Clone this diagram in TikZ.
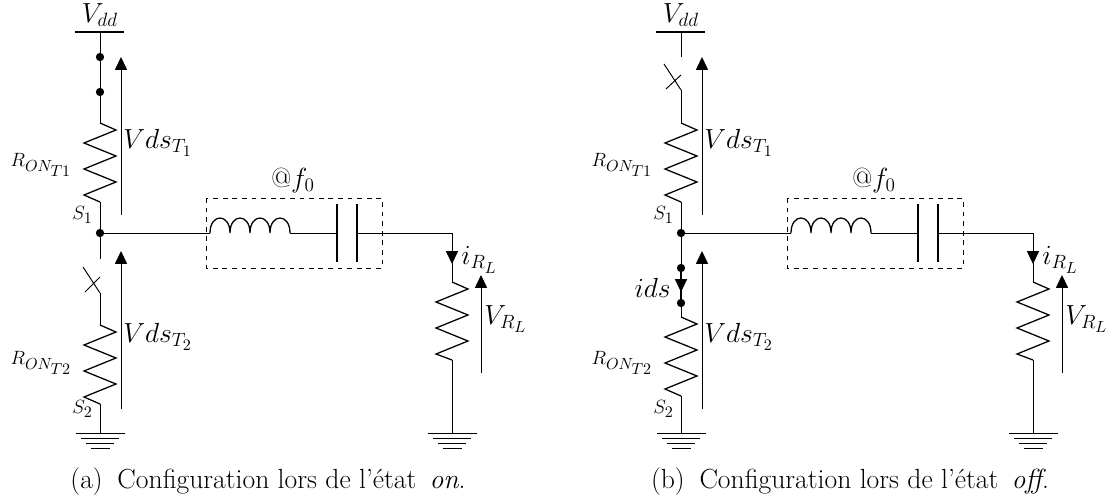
\documentclass[tikz,border=0pt]{standalone}
\usetikzlibrary{arrows.meta,calc}
\DeclareMathSizes{16}{16}{12}{10}
\tikzset{
    wire/.style={line width=0.45pt},
    res/.style={line width=0.8pt},
    volt/.style={line width=0.55pt,-{Triangle[length=8pt,width=7.5pt]}},
    dot/.style={circle,fill=black,inner sep=0pt,minimum size=5.2pt},
    lbl/.style={inner sep=0pt,font=\fontsize{16}{19}\selectfont},
    capt/.style={inner sep=0pt,anchor=base,font=\fontsize{17.28}{21}\selectfont},
}
% zigzag of 80 px going down from #1 to #2
\newcommand{\zig}[2]{\draw[res] (#1) -- ++(16,7) -- ++(-32,13) -- ++(32,13) -- ++(-32,13) -- ++(32,13) -- ++(-32,13) -- (#2);}
\newcommand{\gnd}[1]{
    \draw[wire] ($(#1)+(-24.5,0)$) -- ++(49,0);
    \draw[wire] ($(#1)+(-19,5)$) -- ++(38,0);
    \draw[wire] ($(#1)+(-14,10)$) -- ++(28,0);
    \draw[wire] ($(#1)+(-9.5,15)$) -- ++(19,0);
}
\begin{document}
\begin{tikzpicture}[x=0.625pt,y=-0.625pt]
    \useasboundingbox (0,0) rectangle (1106,499);
    % (a) state on
    \coordinate (vddA) at (100,32);
    \draw[line width=0.8pt] (75,32) -- (124,32);
    \node[lbl,above=3pt] (vddlabelA) at (vddA) {$V_{dd}$};
    \node[dot] (topA) at (100,57) {};
    \node[dot] (botA) at (100,92) {};
    \coordinate (r1topA) at (100,123);
    \coordinate (r1botA) at (100,202);
    \node[dot] (s1A) at (100,233) {};
    \draw[wire] (vddA) -- (topA);
    \draw[wire] (topA) -- (botA);
    \draw[wire] (botA) -- (r1topA);
    \zig{r1topA}{r1botA}
    \draw[wire] (r1botA) -- (s1A);
    \coordinate (swtopA) at (100,259);
    \coordinate (swbotA) at (100,293);
    \coordinate (r2topA) at (100,325);
    \coordinate (r2botA) at (100,404);
    \coordinate (gndA) at (100,433);
    \draw[wire] (s1A) -- (swtopA);
    \draw[wire] (swbotA) -- (r2topA);
    \draw[line width=0.6pt] (83,267) -- (swbotA);
    \draw[line width=0.6pt] (85,292) -- (100,277);
    \zig{r2topA}{r2botA}
    \draw[wire] (r2botA) -- (gndA);
    \gnd{gndA}
    \draw[volt] (121,215) -- (121,57);
    \draw[volt] (121,409) -- (121,251);
    \node[lbl,anchor=west] (vds1A) at (123,143) {$Vds_{T_1}$};
    \node[lbl,anchor=west] (vds2A) at (123,337) {$Vds_{T_2}$};
    \node[lbl,anchor=east] (ron1A) at (72,165) {$\scriptstyle R_{ON_{T1}}$};
    \node[lbl,anchor=east] (ron2A) at (72,363) {$\scriptstyle R_{ON_{T2}}$};
    \node[lbl,anchor=east] (s1labelA) at (93,215) {$\scriptstyle S_1$};
    \node[lbl,anchor=east] (s2labelA) at (93,409) {$\scriptstyle S_2$};
    \coordinate (lstartA) at (210,233);
    \coordinate (lendA) at (290,233);
    \coordinate (cleftA) at (337,233);
    \coordinate (crightA) at (357,233);
    \coordinate (cornerA) at (452,233);
    \draw[wire] (s1A) -- (lstartA);
    \draw[res] (lstartA) .. controls +(0,-20) and +(0,-20) .. ++(20,0) .. controls +(0,-20) and +(0,-20) .. ++(20,0) .. controls +(0,-20) and +(0,-20) .. ++(20,0) .. controls +(0,-20) and +(0,-20) .. (lendA);
    \draw[wire] (lendA) -- (cleftA);
    \draw[res] (337,204) -- (337,262);
    \draw[res] (357,204) -- (357,262);
    \draw[wire] (crightA) -- (cornerA);
    \draw[dashed,line width=0.45pt] (206,198) rectangle (382,268);
    \node[lbl,above=3pt] (f0A) at (293,198) {$@f_0$};
    \coordinate (r3topA) at (452,282);
    \coordinate (r3botA) at (452,360);
    \coordinate (gnd3A) at (452,433);
    \draw[line width=0.55pt,-{Triangle[length=8pt,width=7.5pt]}] (cornerA) -- (452,264);
    \draw[wire] (452,260) -- (r3topA);
    \zig{r3topA}{r3botA}
    \draw[wire] (r3botA) -- (gnd3A);
    \gnd{gnd3A}
    \draw[volt] (481,373) -- (481,275);
    \node[lbl,anchor=west] (iA) at (461,260) {$i_{R_L}$};
    \node[lbl,anchor=west] (vrlA) at (484,319) {$V_{R_L}$};
    \node[capt] (capA) at (268,488) {(a)\hspace{4pt} Configuration lors de l'\'etat\hspace{3pt} \emph{on}.};

    % (b) state off
    \coordinate (vddB) at (681,32);
    \draw[line width=0.8pt] (656,32) -- (705,32);
    \node[lbl,above=3pt] (vddlabelB) at (vddB) {$V_{dd}$};
    \coordinate (swtopB) at (681,57);
    \coordinate (swbotB) at (681,90);
    \coordinate (r1topB) at (681,123);
    \coordinate (r1botB) at (681,202);
    \node[dot] (s1B) at (681,233) {};
    \draw[wire] (vddB) -- (swtopB);
    \draw[line width=0.6pt] (664,64) -- (swbotB);
    \draw[line width=0.6pt] (666,89) -- (681,75);
    \draw[wire] (swbotB) -- (r1topB);
    \zig{r1topB}{r1botB}
    \draw[wire] (r1botB) -- (s1B);
    \node[dot] (topB) at (681,268) {};
    \node[dot] (botB) at (681,303) {};
    \coordinate (r2topB) at (681,317);
    \coordinate (r2botB) at (681,396);
    \coordinate (gndB) at (681,433);
    \draw[wire] (s1B) -- (topB);
    \draw[res,-{Triangle[length=8pt,width=7.5pt]}] (topB) -- (681,292);
    \draw[res] (681,288) -- (botB);
    \draw[wire] (botB) -- (r2topB);
    \zig{r2topB}{r2botB}
    \draw[wire] (r2botB) -- (gndB);
    \gnd{gndB}
    \draw[volt] (702,215) -- (702,57);
    \draw[volt] (702,409) -- (702,251);
    \node[lbl,anchor=west] (vds1B) at (704,143) {$Vds_{T_1}$};
    \node[lbl,anchor=west] (vds2B) at (704,337) {$Vds_{T_2}$};
    \node[lbl,anchor=east] (ron1B) at (653,165) {$\scriptstyle R_{ON_{T1}}$};
    \node[lbl,anchor=east] (ron2B) at (653,363) {$\scriptstyle R_{ON_{T2}}$};
    \node[lbl,anchor=east] (s1labelB) at (674,215) {$\scriptstyle S_1$};
    \node[lbl,anchor=east] (s2labelB) at (674,409) {$\scriptstyle S_2$};
    \node[lbl,anchor=east] (idsB) at (671,288) {$ids$};
    \coordinate (lstartB) at (791,233);
    \coordinate (lendB) at (871,233);
    \coordinate (cleftB) at (918,233);
    \coordinate (crightB) at (938,233);
    \coordinate (cornerB) at (1033,233);
    \draw[wire] (s1B) -- (lstartB);
    \draw[res] (lstartB) .. controls +(0,-20) and +(0,-20) .. ++(20,0) .. controls +(0,-20) and +(0,-20) .. ++(20,0) .. controls +(0,-20) and +(0,-20) .. ++(20,0) .. controls +(0,-20) and +(0,-20) .. (lendB);
    \draw[wire] (lendB) -- (cleftB);
    \draw[res] (918,204) -- (918,262);
    \draw[res] (938,204) -- (938,262);
    \draw[wire] (crightB) -- (cornerB);
    \draw[dashed,line width=0.45pt] (787,198) rectangle (963,268);
    \node[lbl,above=3pt] (f0B) at (874,198) {$@f_0$};
    \coordinate (r3topB) at (1033,282);
    \coordinate (r3botB) at (1033,360);
    \coordinate (gnd3B) at (1033,433);
    \draw[line width=0.55pt,-{Triangle[length=8pt,width=7.5pt]}] (cornerB) -- (1033,264);
    \draw[wire] (1033,260) -- (r3topB);
    \zig{r3topB}{r3botB}
    \draw[wire] (r3botB) -- (gnd3B);
    \gnd{gnd3B}
    \draw[volt] (1062,373) -- (1062,275);
    \node[lbl,anchor=west] (iB) at (1042,260) {$i_{R_L}$};
    \node[lbl,anchor=west] (vrlB) at (1065,319) {$V_{R_L}$};
    \node[capt] (capB) at (850,488) {(b)\hspace{4pt} Configuration lors de l'\'etat\hspace{3pt} \emph{off}.};
\end{tikzpicture}
\end{document}
